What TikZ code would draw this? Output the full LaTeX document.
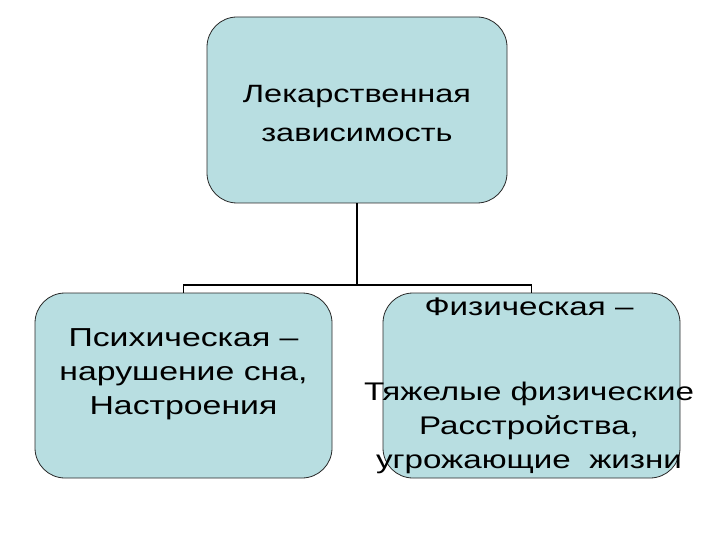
\documentclass[tikz,border=0pt]{standalone}
\usepackage{fontspec}
\setmainfont{Liberation Sans}[FakeStretch=1.3]
\definecolor{boxFill}{RGB}{184,222,225}
\definecolor{boxLine}{RGB}{40,40,40}

\begin{document}
\begin{tikzpicture}[x=1pt,y=1pt,
  box/.style={draw=boxLine,fill=boxFill,line width=0.8pt,rounded corners=30pt,inner sep=0pt},
  link/.style={black,line width=1.8pt},
  txt/.style={align=center,inner sep=0pt,anchor=north}]
\useasboundingbox (0,0) rectangle (720,-540);
\coordinate (c0) at (357,-110);
\coordinate (c1) at (183.5,-385.5);
\coordinate (c2) at (531.5,-385.5);
\coordinate (fork) at (357,-285);
\node[box,minimum width=300pt,minimum height=186pt] (drug) at (c0) {};
\node[box,minimum width=297pt,minimum height=185pt] (psych) at (c1) {};
\node[box,minimum width=297pt,minimum height=185pt] (phys) at (c2) {};
\draw[link] (drug.south) -- (fork);
\draw[link] (psych.north) |- (fork);
\draw[link] (phys.north) |- (fork);
\node[txt,font=\fontsize{25}{39}\selectfont] (drugtxt) at (357,-85)
  {Лекарственная\\зависимость};
\node[txt,font=\fontsize{26}{34}\selectfont] (psychtxt) at (183.5,-328)
  {Психическая --\\нарушение сна,\\Настроения};
\node[txt,font=\fontsize{25.5}{34}\selectfont] (phystxt) at (529,-297.5)
  {Физическая --\\[51pt]Тяжелые физические\\Расстройства,\\угрожающие\ \ жизни};
\end{tikzpicture}
\end{document}
